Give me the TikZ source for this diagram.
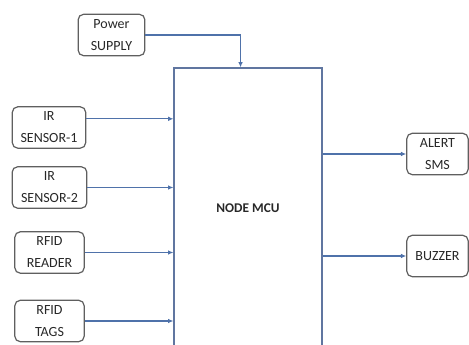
\documentclass[tikz,border=0pt]{standalone}
\usepackage{fontspec}
\setmainfont{Carlito}
\usetikzlibrary{arrows.meta, positioning, calc}
\definecolor{boxgray}{RGB}{95, 95, 95}
\definecolor{linkblue}{RGB}{79, 114, 170}
\definecolor{mcublue}{RGB}{96, 118, 160}
\definecolor{textgray}{RGB}{40, 40, 40}

\begin{document}
\begin{tikzpicture}[x=0.75pt, y=-0.75pt,
        unit/.style={
            rectangle,
            rounded corners=4pt,
            draw=boxgray,
            line width=0.9pt,
            fill=white,
            minimum height=31pt,
            align=center,
            inner sep=1pt,
            text=textgray,
            font=\fontsize{10.5}{16.5}\selectfont
        },
        mcu/.style={
            rectangle,
            draw=mcublue,
            line width=0.9pt,
            minimum width=111pt,
            minimum height=210pt,
            text=textgray,
            font=\fontsize{10}{12}\selectfont\bfseries
        },
        link/.style={
            -{Latex[length=4pt, width=3.5pt]},
            draw=linkblue,
            line width=1pt
        }
    ]
        \useasboundingbox (0,0) rectangle (469,345);
        \clip (0,0) rectangle (469,345);

        \node[mcu] (mcu) at (248,208) {NODE MCU};

        \node[unit, minimum width=50pt] (power) at (111.5,35) {Power\\SUPPLY};
        \node[unit, minimum width=55pt] (ir1) at (49,127.5) {IR\\SENSOR-1};
        \node[unit, minimum width=56pt] (ir2) at (49.5,187.5) {IR\\SENSOR-2};
        \node[unit, minimum width=52pt] (reader) at (49.5,252.5) {RFID\\READER};
        \node[unit, minimum width=52pt] (tags) at (49.5,321) {RFID\\TAGS};

        \node[unit, minimum width=46pt] (alert) at (437.5,154) {ALERT\\SMS};
        \node[unit, minimum width=46pt] (buzzer) at (437.5,256) {BUZZER};

        \coordinate (mcutop) at ($(mcu.north west)!0.45!(mcu.north east)$);
        \draw[link] (power.east) -| (mcutop);

        \draw[link] ([yshift=6.5pt]ir1.east) coordinate (ir1out) -- (ir1out -| mcu.west);
        \draw[link] (ir2.east) -- (ir2.east -| mcu.west);
        \draw[link] (reader.east) -- (reader.east -| mcu.west);
        \draw[link] (tags.east) -- (tags.east -| mcu.west);

        \draw[link] (alert.west -| mcu.east) -- (alert.west);
        \draw[link] (buzzer.west -| mcu.east) -- (buzzer.west);
    \end{tikzpicture}
\end{document}
